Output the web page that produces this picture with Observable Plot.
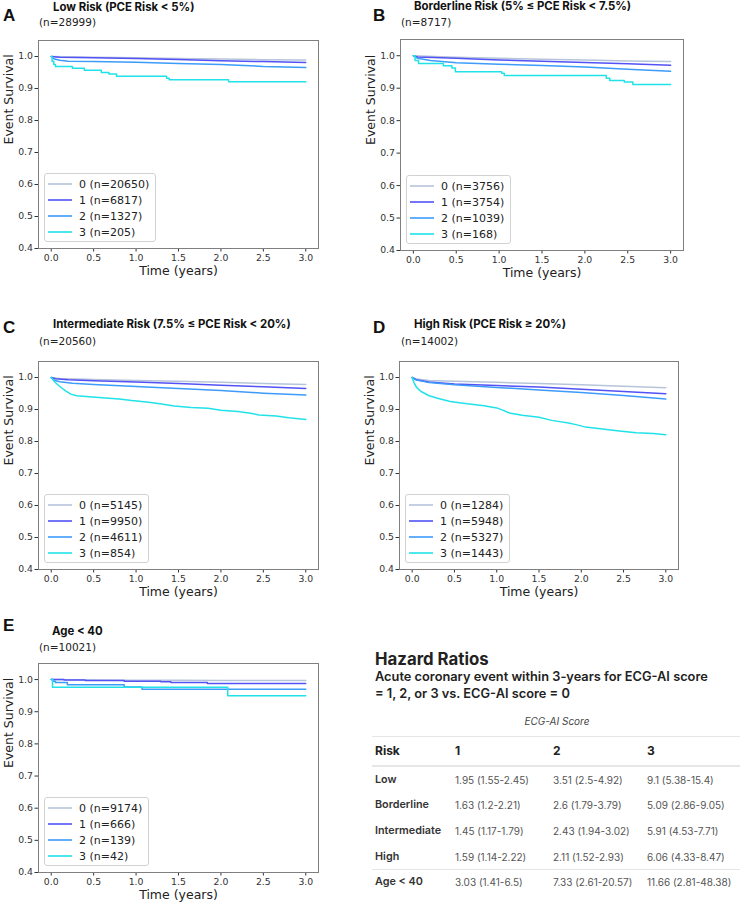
<!DOCTYPE html>
<html><head><meta charset="utf-8">
<script src="https://cdn.jsdelivr.net/npm/d3@7"></script>
<script src="https://cdn.jsdelivr.net/npm/@observablehq/plot@0.6"></script>
<style>
html,body{margin:0;padding:0;background:#fff;}
#root{position:relative;width:740px;height:904px;overflow:hidden;background:#fff;}
.abs{position:absolute;white-space:nowrap;line-height:1;}
.letter{font-family:"Liberation Sans",Arial,sans-serif;font-weight:700;font-size:17px;color:#111;transform:translateY(-50%);}
.ptitle{font-family:Inter,sans-serif;font-weight:700;font-size:11.4px;color:#111;transform:translateY(-50%);}
.pn{font-family:"DejaVu Sans",sans-serif;font-size:10.5px;color:#222;transform:translateY(-50%);}
.legend{border:1px solid #d2d2d2;border-radius:3px;background:rgba(255,255,255,0.85);font-family:"DejaVu Sans",sans-serif;font-size:11px;color:#222;padding:2px 6px 2px 3px;box-sizing:border-box;}
.legend .row{display:flex;align-items:center;height:16px;}
.legend svg{margin-right:7px;}
.hrTitle{font-family:Inter,sans-serif;font-weight:700;font-size:16.8px;color:#222;transform:translateY(-50%);}
.hrSub{font-family:Inter,sans-serif;font-weight:600;font-size:12.8px;color:#222;transform:translateY(-50%);}
.hrCap{font-family:Inter,sans-serif;font-style:italic;font-size:10px;color:#444;transform:translate(-50%,-50%);}
.hrHead{font-family:Inter,sans-serif;font-weight:700;font-size:12px;color:#222;transform:translateY(-50%);}
.hrRow{font-family:Inter,sans-serif;font-weight:600;font-size:10.8px;color:#333;transform:translateY(-50%);}
.hrVal{font-family:Inter,sans-serif;font-size:10px;color:#555;transform:translateY(-50%);}
.hline{position:absolute;background:#e6e6e6;}
</style>
</head><body><div id="root"></div>
<script>
// ---------- data ----------
const groups = ["0","1","2","3"];
const xTicks = [0, 0.5, 1, 1.5, 2, 2.5, 3];
const yTicks = [0.4, 0.5, 0.6, 0.7, 0.8, 0.9, 1.0];

const titles = ["Low Risk (PCE Risk < 5%)", "Borderline Risk (5% \u2264 PCE Risk < 7.5%)", "Intermediate Risk (7.5% \u2264 PCE Risk < 20%)", "High Risk (PCE Risk \u2265 20%)", "Age < 40"];
const panelLetters = ["A","B","C","D","E"];
const totals = [28999, 8717, 20560, 14002, 10021];

const nLow = [20650, 6817, 1327, 205];
const nBorder = [3756, 3754, 1039, 168];
const nInter = [5145, 9950, 4611, 854];
const nHigh = [1284, 5948, 5327, 1443];
const nAge = [9174, 666, 139, 42];

const curvesLow = [
  [[0,1],[0.5,0.998],[1,0.996],[1.5,0.994],[2,0.992],[2.5,0.990],[3,0.989]],
  [[0,1],[0.1,0.998],[0.5,0.996],[1,0.994],[1.5,0.991],[2,0.987],[2.5,0.984],[3,0.981]],
  [[0,1],[0.03,0.993],[0.1,0.988],[0.2,0.985],[0.5,0.984],[1,0.982],[1.5,0.978],[2,0.975],[2.5,0.969],[3,0.966]],
  [[0,1],[0.01,0.985],[0.03,0.975],[0.05,0.969],[0.25,0.963],[0.39,0.957],[0.59,0.950],[0.68,0.945],[0.77,0.938],[1.36,0.932],[1.39,0.927],[2.09,0.921],[3,0.921]]
];
const curvesBorder = [
  [[0,1],[0.5,0.995],[1,0.992],[1.5,0.989],[2,0.987],[2.5,0.984],[3,0.982]],
  [[0,1],[0.05,0.996],[0.5,0.992],[1,0.987],[1.5,0.983],[2,0.979],[2.5,0.975],[3,0.971]],
  [[0,1],[0.05,0.992],[0.2,0.985],[0.5,0.978],[1,0.974],[1.5,0.970],[2,0.965],[2.5,0.958],[3,0.952]],
  [[0,1],[0.02,0.985],[0.06,0.976],[0.35,0.969],[0.45,0.962],[0.49,0.951],[1.03,0.946],[1.06,0.939],[2.25,0.931],[2.29,0.924],[2.46,0.919],[2.56,0.911],[3,0.911]]
];
const curvesInter = [
  [[0,1],[0.1,0.997],[0.5,0.994],[1,0.991],[1.5,0.988],[2,0.985],[2.5,0.981],[3,0.978]],
  [[0,1],[0.05,0.996],[0.2,0.993],[0.5,0.990],[1,0.986],[1.5,0.981],[2,0.976],[2.5,0.971],[3,0.966]],
  [[0,1],[0.03,0.992],[0.1,0.987],[0.25,0.982],[0.5,0.978],[1,0.972],[1.5,0.966],[2,0.959],[2.5,0.951],[3,0.945]],
  [[0,1],[0.03,0.99],[0.07,0.979],[0.12,0.968],[0.17,0.958],[0.23,0.948],[0.3,0.943],[0.45,0.940],[0.6,0.937],[0.8,0.933],[0.95,0.928],[1.15,0.923],[1.3,0.917],[1.45,0.911],[1.65,0.906],[1.85,0.904],[2.0,0.898],[2.2,0.894],[2.35,0.888],[2.45,0.883],[2.65,0.880],[2.8,0.874],[3,0.869]]
];
const curvesHigh = [
  [[0,1],[0.05,0.995],[0.2,0.991],[0.5,0.988],[1,0.985],[1.5,0.981],[2,0.977],[2.5,0.973],[3,0.968]],
  [[0,1],[0.05,0.993],[0.2,0.986],[0.5,0.980],[1,0.975],[1.5,0.970],[2,0.963],[2.5,0.956],[3,0.949]],
  [[0,1],[0.05,0.992],[0.2,0.984],[0.5,0.977],[1,0.969],[1.5,0.961],[2,0.953],[2.5,0.944],[3,0.933]],
  [[0,1],[0.02,0.985],[0.05,0.97],[0.1,0.957],[0.2,0.943],[0.3,0.935],[0.45,0.925],[0.65,0.918],[0.85,0.912],[1.0,0.905],[1.07,0.898],[1.15,0.889],[1.3,0.882],[1.5,0.876],[1.65,0.866],[1.85,0.858],[1.95,0.852],[2.05,0.845],[2.25,0.839],[2.45,0.833],[2.65,0.827],[2.85,0.825],[3,0.821]]
];
const curvesAge = [
  [[0,1],[0.5,0.999],[1,0.998],[1.5,0.998],[2,0.997],[3,0.997]],
  [[0,1],[0.15,0.999],[0.4,0.997],[0.86,0.995],[1.29,0.993],[1.41,0.991],[1.84,0.9875],[3,0.9875]],
  [[0,1],[0.02,0.995],[0.05,0.991],[0.19,0.984],[0.86,0.977],[1.07,0.970],[3,0.970]],
  [[0,1],[0.015,0.976],[2.08,0.950],[3,0.950]]
];

const hrColumns = ["Risk", "1", "2", "3"];
const hrRisk = ["Low", "Borderline", "Intermediate", "High", "Age < 40"];
const hrScore1 = ["1.95 (1.55-2.45)", "1.63 (1.2-2.21)", "1.45 (1.17-1.79)", "1.59 (1.14-2.22)", "3.03 (1.41-6.5)"];
const hrScore2 = ["3.51 (2.5-4.92)", "2.6 (1.79-3.79)", "2.43 (1.94-3.02)", "2.11 (1.52-2.93)", "7.33 (2.61-20.57)"];
const hrScore3 = ["9.1 (5.38-15.4)", "5.09 (2.86-9.05)", "5.91 (4.53-7.71)", "6.06 (4.33-8.47)", "11.66 (2.81-48.38)"];

// ---------- styles / layout ----------
const colors = ["#b6c4da", "#5252f6", "#3d9bfa", "#20e2e8"];
const root = document.getElementById("root");

function addDiv(cls, text, left, top) {
  const d = document.createElement("div");
  d.className = "abs " + cls;
  d.textContent = text;
  d.style.left = left + "px";
  d.style.top = top + "px";
  root.appendChild(d);
  return d;
}

const layouts = [
  {frame:[38,40,318,248], letter:[3,15], title:[53,8], n:[39,22], steps:[false,false,false,true]},
  {frame:[400,39,683,250], letter:[373,15], title:[414,7], n:[401,22], steps:[false,false,false,true]},
  {frame:[38,361,318,569], letter:[3,327], title:[53,325], n:[39,341], steps:[false,false,false,false]},
  {frame:[399,361,678,569], letter:[373,327], title:[414,325], n:[401,341], steps:[false,false,false,false]},
  {frame:[38,663,318,872], letter:[3,625], title:[52,632], n:[39,647], steps:[false,true,true,true]}
];
const allCurves = [curvesLow, curvesBorder, curvesInter, curvesHigh, curvesAge];
const allN = [nLow, nBorder, nInter, nHigh, nAge];

layouts.forEach((lay, i) => {
  const [L, T, R, B] = lay.frame;
  const ml = 40, mt = 10, mr = 12, mb = 40;
  const curves = allCurves[i];
  const marks = [Plot.frame({stroke: "#7f7f7f", strokeWidth: 1})];
  curves.forEach((pts, g) => {
    marks.push(Plot.line(pts, {x: d => d[0], y: d => d[1], stroke: colors[g], strokeWidth: 1.5,
      curve: lay.steps[g] ? "step-after" : "linear"}));
  });
  marks.push(Plot.text(["Time (years)"], {frameAnchor: "bottom", dy: 26, fontSize: 12.5, fill: "#222"}));
  marks.push(Plot.text(["Event Survival"], {frameAnchor: "left", rotate: -90, dx: -30, fontSize: 12.5, fill: "#222"}));
  const svg = Plot.plot({
    width: R - L + ml + mr,
    height: B - T + mt + mb,
    marginLeft: ml, marginRight: mr, marginTop: mt, marginBottom: mb,
    style: {fontFamily: "DejaVu Sans", fontSize: "9.3px", color: "#333", background: "transparent", overflow: "visible"},
    x: {domain: [-0.15, 3.15], ticks: xTicks, tickFormat: d3.format(".1f"), tickSize: 3.5, tickPadding: 2, label: null},
    y: {domain: [0.4, 1.05], ticks: yTicks, tickFormat: d3.format(".1f"), tickSize: 3.5, tickPadding: 2, label: null},
    marks
  });
  svg.style.position = "absolute";
  svg.style.left = (L - ml) + "px";
  svg.style.top = (T - mt) + "px";
  root.appendChild(svg);

  addDiv("letter", panelLetters[i], lay.letter[0], lay.letter[1]);
  addDiv("ptitle", titles[i], lay.title[0], lay.title[1]);
  addDiv("pn", "(n=" + totals[i] + ")", lay.n[0], lay.n[1]);

  // legend
  const leg = document.createElement("div");
  leg.className = "abs legend";
  leg.style.left = (L + 6) + "px";
  leg.style.top = (B - 6 - 69) + "px";
  leg.style.height = "69px";
  groups.forEach((g, k) => {
    const row = document.createElement("div");
    row.className = "row";
    row.innerHTML = `<svg width="24" height="16"><line x1="0" x2="24" y1="8" y2="8" stroke="${colors[k]}" stroke-width="1.6"/></svg><span>${g} (n=${allN[i][k]})</span>`;
    leg.appendChild(row);
  });
  root.appendChild(leg);
});

// ---------- hazard ratio table ----------
addDiv("hrTitle", "Hazard Ratios", 375, 659);
addDiv("hrSub", "Acute coronary event within 3-years for ECG-AI score", 375, 677);
addDiv("hrSub", "= 1, 2, or 3 vs. ECG-AI score = 0", 375, 694);
addDiv("hrCap", "ECG-AI Score", 557, 721);
function hline(top, h) {
  const d = document.createElement("div");
  d.className = "hline";
  d.style.left = "372px"; d.style.width = "368px";
  d.style.top = top + "px"; d.style.height = h + "px";
  root.appendChild(d);
}
hline(736, 1); hline(765, 2); hline(869, 1);
const colX = [375, 455, 553, 647];
hrColumns.forEach((c, j) => addDiv("hrHead", c, colX[j], 751));
const rowY = [780, 805, 831, 857, 882];
hrRisk.forEach((r, k) => {
  addDiv("hrRow", r, colX[0], rowY[k]);
  addDiv("hrVal", hrScore1[k], colX[1], rowY[k]);
  addDiv("hrVal", hrScore2[k], colX[2], rowY[k]);
  addDiv("hrVal", hrScore3[k], colX[3], rowY[k]);
});
</script></body></html>
